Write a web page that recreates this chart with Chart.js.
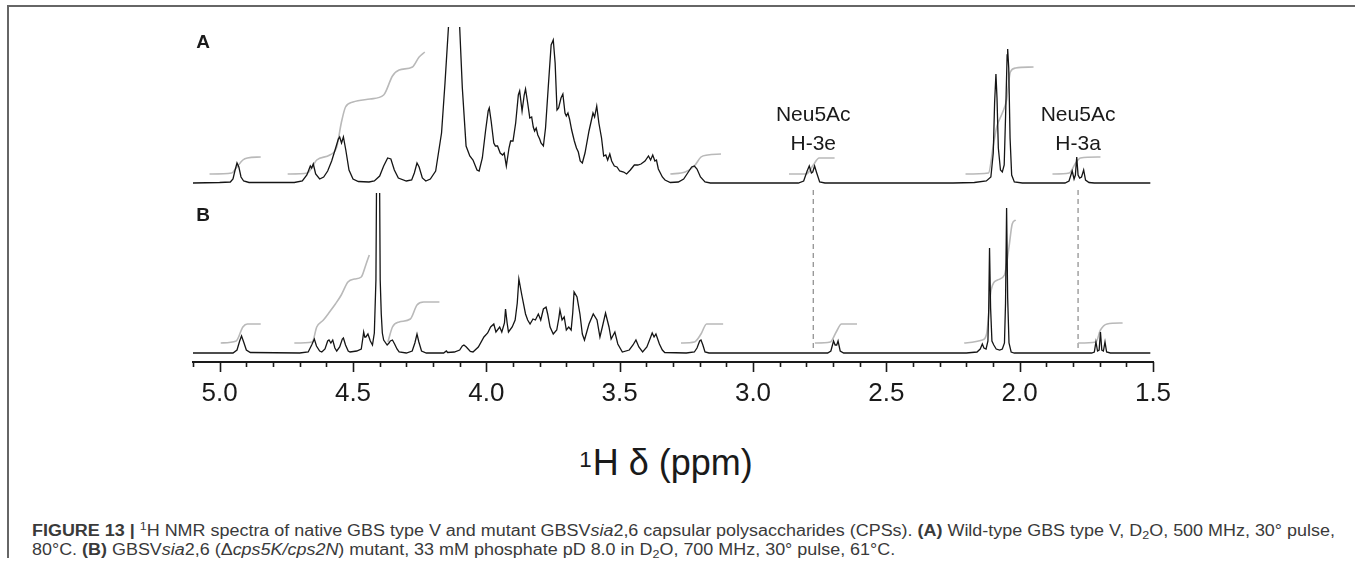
<!DOCTYPE html>
<html><head><meta charset="utf-8">
<script src="https://cdn.jsdelivr.net/npm/chart.js@4/dist/chart.umd.min.js"></script>
<style>
html,body{margin:0;padding:0;background:#fff;}
#wrap{position:relative;width:1355px;height:563px;overflow:hidden;background:#fff;font-family:"Liberation Sans",Arial,Helvetica,sans-serif;}
canvas{position:absolute;left:0;top:0;}
.t{position:absolute;white-space:nowrap;color:#1a1a1a;}
.panel{font-weight:bold;font-size:19px;transform:translate(-50%,-50%);line-height:20px;}
.ann{font-size:21px;text-align:center;line-height:29px;transform:translateX(-50%);}
.title{font-size:36px;line-height:40px;transform:translateX(-50%);}
.title sup{font-size:62%;position:relative;top:-0.15em;vertical-align:top;margin-right:1px;}
.cap{left:32px;font-size:16px;color:#3a3a3a;transform-origin:0 50%;line-height:20px;}
.cap sup,.cap sub{font-size:70%;line-height:0;position:relative;vertical-align:baseline;}
.cap sup{top:-0.5em}.cap sub{top:0.3em}
.fr{position:absolute;background:#666;}
</style></head>
<body>
<div id="wrap">
  <div class="fr" style="left:7px;top:5px;width:1348px;height:2px;"></div>
  <div class="fr" style="left:7px;top:5px;width:2px;height:553px;"></div>
  <canvas id="cB" width="1355" height="430"></canvas>
  <canvas id="cA" width="1355" height="200"></canvas>
  <div class="t panel" style="left:203px;top:42px;">A</div>
  <div class="t panel" style="left:203px;top:215px;">B</div>
  <div id="ann0" class="t ann" style="top:99px;"></div>
  <div id="ann1" class="t ann" style="top:99px;"></div>
  <div class="t title" style="left:666px;top:443px;"><sup>1</sup>H δ (ppm)</div>
  <div id="cap1" class="t cap" style="top:521px;"><b>FIGURE 13 |</b> <sup>1</sup>H NMR spectra of native GBS type V and mutant GBSV<i>sia</i>2,6 capsular polysaccharides (CPSs). <b>(A)</b> Wild-type GBS type V, D<sub>2</sub>O, 500 MHz, 30° pulse,</div>
  <div id="cap2" class="t cap" style="top:540px;">80°C. <b>(B)</b> GBSV<i>sia</i>2,6 (Δ<i>cps5K/cps2N</i>) mutant, 33 mM phosphate pD 8.0 in D<sub>2</sub>O, 700 MHz, 30° pulse, 61°C.</div>
</div>
<script>
// ---------- data (chemical shift in ppm, intensity in arbitrary units) ----------
const axisMin = 1.5, axisMax = 5.1;
const tickLabels = ['5.0','4.5','4.0','3.5','3.0','2.5','2.0','1.5'];

const ppmA = [5.10,5.00,4.96,4.95,4.943,4.935,4.928,4.92,4.91,4.89,4.80,4.72,4.69,4.673,4.66,4.655,4.649,4.64,4.625,4.61,4.595,4.58,4.565,4.555,4.55,4.543,4.536,4.527,4.515,4.50,4.48,4.44,4.42,4.40,4.385,4.37,4.358,4.345,4.33,4.30,4.28,4.27,4.26,4.252,4.24,4.227,4.21,4.19,4.168,4.155,4.142,4.13,4.12,4.11,4.10,4.09,4.076,4.062,4.05,4.035,4.027,4.015,4.003,3.993,3.989,3.982,3.972,3.966,3.958,3.948,3.939,3.933,3.925,3.915,3.909,3.90,3.89,3.88,3.875,3.866,3.858,3.853,3.845,3.837,3.83,3.824,3.819,3.813,3.807,3.80,3.795,3.786,3.778,3.768,3.757,3.749,3.742,3.735,3.729,3.72,3.713,3.705,3.70,3.694,3.688,3.68,3.67,3.662,3.655,3.648,3.64,3.63,3.615,3.60,3.594,3.586,3.578,3.568,3.56,3.552,3.545,3.537,3.53,3.52,3.51,3.50,3.485,3.474,3.46,3.445,3.432,3.42,3.405,3.392,3.384,3.376,3.368,3.362,3.355,3.34,3.33,3.31,3.28,3.26,3.245,3.23,3.22,3.21,3.197,3.18,3.16,2.83,2.81,2.797,2.789,2.781,2.776,2.769,2.761,2.75,2.73,2.25,2.17,2.125,2.108,2.099,2.094,2.089,2.085,2.08,2.072,2.065,2.058,2.052,2.047,2.045,2.041,2.036,2.03,2.02,1.99,1.83,1.815,1.803,1.796,1.791,1.786,1.781,1.775,1.768,1.76,1.753,1.74,1.72,1.51];
const intensityA = [0,0.5,1,4,12,20,16,6,2,0.5,0.5,0.5,2,8,17,15,19,9,4,6,12,22,35,44,46,40,46,33,13,4,1.5,1,2,7,17,25,24,13,5,2,3,10,20,16,5,2,4,12,50,100,156,250,280,250,156,95,37,27,23,13,12,25,52,72,75,62,40,37,37,30,28,30,17,35,42,42,60,88,92,72,88,94,80,65,66,56,52,55,48,44,40,37,55,95,138,143,120,73,75,85,89,70,67,70,64,53,42,35,31,22,20,30,52,70,66,77,60,45,27,28,23,29,22,17,16,12,11,9,13,18,18,19,22,27,23,28,22,23,14,6,3,0.5,1,4,10,16,17,14,6,1,0,0,2,12,17,10,11,17,10,1,0,0,0.5,2,6,30,80,109,85,35,13,11,18,75,128,134,115,45,8,1,0,0,2,12,4,8,26,8,5,6,13,3,0.5,0,0];

const ppmB = [5.10,4.95,4.935,4.925,4.918,4.91,4.90,4.885,4.70,4.668,4.655,4.645,4.637,4.625,4.617,4.605,4.595,4.59,4.583,4.576,4.568,4.561,4.55,4.54,4.536,4.528,4.518,4.511,4.486,4.469,4.463,4.46,4.456,4.452,4.444,4.435,4.427,4.42,4.414,4.408,4.404,4.398,4.394,4.39,4.385,4.372,4.365,4.36,4.352,4.344,4.335,4.327,4.30,4.278,4.268,4.26,4.253,4.243,4.225,4.16,4.15,4.145,4.12,4.10,4.09,4.084,4.075,4.06,4.05,4.03,4.009,3.995,3.984,3.972,3.964,3.95,3.942,3.932,3.928,3.922,3.917,3.903,3.892,3.884,3.878,3.867,3.853,3.845,3.836,3.825,3.816,3.805,3.796,3.786,3.776,3.77,3.761,3.749,3.736,3.728,3.724,3.716,3.708,3.70,3.691,3.682,3.676,3.671,3.66,3.649,3.64,3.632,3.615,3.599,3.585,3.574,3.565,3.553,3.54,3.532,3.518,3.507,3.49,3.464,3.45,3.439,3.428,3.414,3.398,3.385,3.378,3.371,3.364,3.351,3.34,3.331,3.25,3.22,3.21,3.20,3.195,3.188,3.18,3.165,2.72,2.708,2.698,2.692,2.686,2.681,2.673,2.66,2.20,2.16,2.148,2.14,2.134,2.126,2.119,2.116,2.113,2.109,2.104,2.097,2.088,2.075,2.065,2.057,2.053,2.049,2.045,2.04,2.032,2.02,1.73,1.72,1.714,1.708,1.702,1.697,1.692,1.686,1.68,1.674,1.66,1.51];
const intensityB = [0,0,3,12,17,11,3,0.5,0,1,8,14,7,2,1,4,12,13,10,13,5,2,6,14,15,8,2,1,2,4,15,21,16,16,19,12,8,20,73,330,330,73,39,20,13,8,10,12,13,9,4,1,0,2,10,19,11,2,0,0,2,0.5,1,3,7,8,6,1.5,1,6,16,20,26,29,21,26,21,30,44,30,21,26,33,50,74,58,39,33,29,34,33,39,33,44,46,39,26,19,23,35,43,33,36,23,26,23,40,61,56,39,19,13,29,39,33,16,26,40,26,14,21,9,1,3,8,13,6,1,6,15,20,16,19,9,3,0.5,0,1,5,12,13,8,1,0,0,2,12,8,8,12,2,0,0,1,4,9,5,4,12,45,105,45,12,8,4,3,4,10,50,145,55,10,1,0,0,1,11,2,3,21,3,2,11,1,0,0];

// integral traces, [ppm, integral height]
const intA1 = [[5.038,9],[4.955,10],[4.938,15],[4.913,23],[4.896,25],[4.846,26]];
const intA2 = [[4.745,9],[4.67,10],[4.653,16],[4.636,23],[4.587,28],[4.561,36],[4.544,60],[4.528,76],[4.50,81],[4.436,84],[4.385,88],[4.352,107],[4.327,113],[4.277,116],[4.252,126],[4.231,131]];
const intA3 = [[3.31,9],[3.254,11],[3.22,17],[3.195,26],[3.17,28],[3.12,29]];
const intA4 = [[2.865,9],[2.80,9],[2.774,18],[2.752,25],[2.694,25]];
const intA5 = [[2.203,9],[2.117,10],[2.099,37],[2.086,56],[2.065,70],[2.049,83],[2.035,111],[2.015,115],[1.948,116]];
const intA6 = [[1.877,9],[1.814,10],[1.79,20],[1.772,25],[1.697,26]];

const intB1 = [[4.996,10],[4.938,12],[4.913,26],[4.896,29],[4.846,29]];
const intB2 = [[4.72,10],[4.653,11],[4.636,26],[4.611,33],[4.588,41],[4.566,49],[4.544,58],[4.519,71],[4.494,74],[4.469,76],[4.452,88],[4.439,98]];
const intB3 = [[4.369,11],[4.352,26],[4.327,31],[4.285,34],[4.26,48],[4.235,51],[4.176,51]];
const intB4 = [[3.27,10],[3.22,11],[3.195,19],[3.174,29],[3.112,29]];
const intB5 = [[2.768,10],[2.71,11],[2.688,21],[2.668,29],[2.61,29]];
const intB6 = [[2.208,10],[2.14,13],[2.124,19],[2.107,63],[2.083,73],[2.057,78],[2.04,106],[2.028,129],[2.015,133]];
const intB7 = [[1.781,10],[1.714,11],[1.697,23],[1.672,29],[1.614,30]];

// Neu5Ac reference markers
const markerPpm = [2.774, 1.781];
const markerNames = ['H-3e', 'H-3a'];
const markerSpan = [163, 1];

// ---------- helpers ----------
const FONT = '"Liberation Sans", Arial, Helvetica, sans-serif';
const isMajor = v => Math.abs(v * 2 - Math.round(v * 2)) < 1e-6;
const pts = (xs, ys) => xs.map((x, i) => ({x: x, y: ys[i]}));
const pairPts = arr => arr.map(p => ({x: p[0], y: p[1]}));
const specDs = (xs, ys) => ({data: pts(xs, ys), borderColor: '#151515', borderWidth: 1.3, pointRadius: 0, tension: 0, order: 0});
const intDs = arr => ({data: pairPts(arr), borderColor: '#b9b9b9', borderWidth: 1.6, pointRadius: 0, cubicInterpolationMode: 'monotone', order: 1});

const xHidden = {type: 'linear', min: axisMin, max: axisMax, reverse: true, display: false};

// ---------- panel A ----------
new Chart(document.getElementById('cA'), {
  type: 'line',
  data: {datasets: [specDs(ppmA, intensityA), intDs(intA1), intDs(intA2), intDs(intA3), intDs(intA4), intDs(intA5), intDs(intA6)]},
  options: {
    responsive: false, animation: false, devicePixelRatio: 1,
    layout: {padding: {left: 193, right: 202, top: 27, bottom: 10}},
    scales: {x: xHidden, y: {min: -7, max: 156, display: false}},
    plugins: {legend: {display: false}, tooltip: {enabled: false}},
    events: []
  }
});

// ---------- panel B with the ppm axis ----------
const tickPlugin = {
  id: 'ppmTicks',
  afterDraw(chart) {
    const s = chart.scales.x, c = chart.ctx;
    c.save();
    c.strokeStyle = '#1a1a1a';
    c.lineWidth = 1.6;
    s.ticks.forEach(t => {
      const px = Math.round(s.getPixelForValue(t.value)) + 0.5;
      c.beginPath();
      c.moveTo(px, s.top);
      c.lineTo(px, s.top + (isMajor(t.value) ? 10 : 5));
      c.stroke();
    });
    c.restore();
  }
};

const markerDs = markerPpm.map(p => ({
  data: [{x: p, y: markerSpan[0]}, {x: p, y: markerSpan[1]}],
  borderColor: '#8a8a8a', borderWidth: 1.2, borderDash: [5, 4], pointRadius: 0, clip: false, order: 2
}));

const chartB = new Chart(document.getElementById('cB'), {
  type: 'line',
  data: {datasets: [specDs(ppmB, intensityB), intDs(intB1), intDs(intB2), intDs(intB3), intDs(intB4), intDs(intB5), intDs(intB6), intDs(intB7), ...markerDs]},
  options: {
    responsive: false, animation: false, devicePixelRatio: 1,
    layout: {padding: {left: 193, right: 202, top: 193, bottom: 0}},
    scales: {
      x: {
        type: 'linear', min: axisMin, max: axisMax, reverse: true,
        afterFit: s => { s.height = 68; },
        border: {display: true, color: '#1a1a1a', width: 2},
        grid: {display: true, drawOnChartArea: false, drawTicks: true, tickLength: 10, color: 'rgba(0,0,0,0)', tickColor: 'rgba(0,0,0,0)'},
        ticks: {
          stepSize: 0.1, autoSkip: false, maxRotation: 0, padding: 6,
          color: '#1a1a1a', font: {family: FONT, size: 26},
          callback: v => isMajor(v) ? (tickLabels.find(l => Math.abs(parseFloat(l) - v) < 1e-6) || '') : ''
        }
      },
      y: {min: -9, max: 160, display: false}
    },
    plugins: {legend: {display: false}, tooltip: {enabled: false}},
    events: []
  },
  plugins: [tickPlugin]
});

// annotation labels positioned by the ppm scale
markerPpm.forEach((p, i) => {
  const el = document.getElementById('ann' + i);
  el.innerHTML = 'Neu5Ac<br>' + markerNames[i];
  el.style.left = chartB.scales.x.getPixelForValue(p) + 'px';
});

// caption fit to the reference line width
const c1 = document.getElementById('cap1'), c2 = document.getElementById('cap2');
const k = 1303 / c1.scrollWidth;
c1.style.transform = 'scaleX(' + k + ')';
c2.style.transform = 'scaleX(' + k + ')';
</script>
</body></html>
